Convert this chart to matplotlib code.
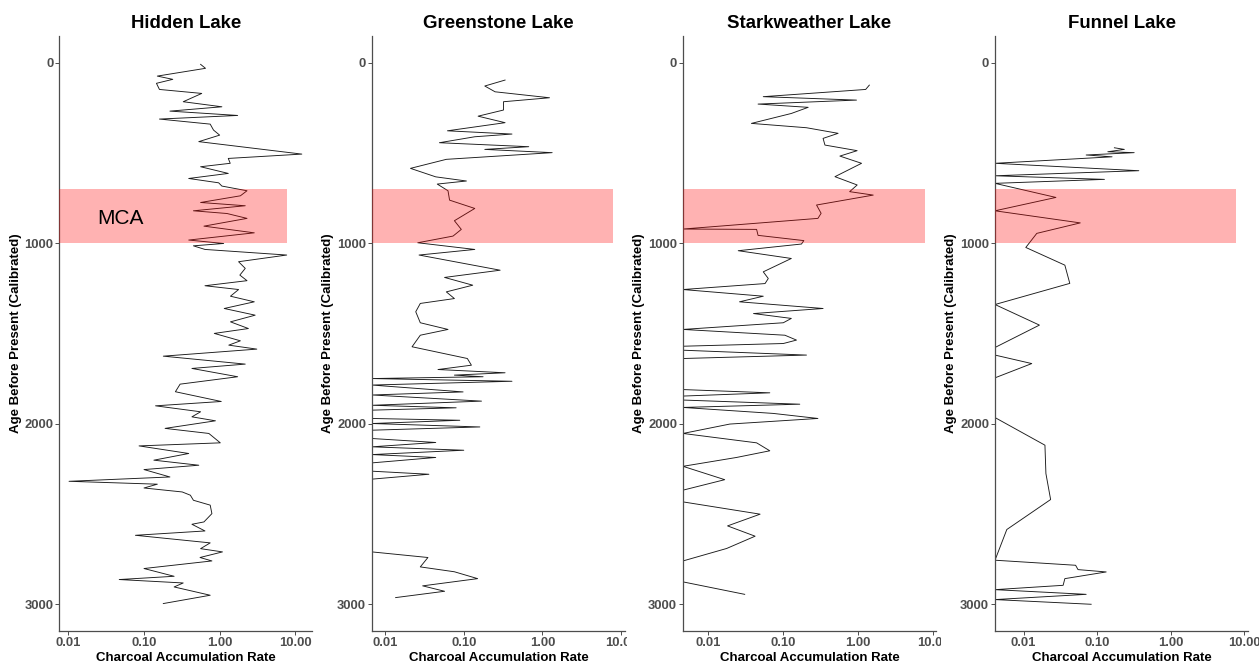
import matplotlib.pyplot as plt
import numpy as np

plt.rcParams['font.family'] = ['Liberation Sans', 'DejaVu Sans']

lakes = ["Hidden Lake", "Greenstone Lake", "Starkweather Lake", "Funnel Lake"]

hidden_age = [9, 31, 74, 92, 114, 148, 170, 216, 244, 268,
              292, 312, 340, 373, 401, 437, 506, 530, 557, 576,
              613, 641, 665, 683, 709, 737, 774, 792, 820, 835,
              862, 905, 942, 982, 1001, 1014, 1034, 1065, 1102, 1139,
              1176, 1207, 1235, 1256, 1293, 1324, 1361, 1398, 1435, 1472,
              1499, 1540, 1564, 1586, 1625, 1669, 1693, 1739, 1780, 1822,
              1876, 1900, 1933, 1961, 1983, 2025, 2053, 2105, 2122, 2164,
              2201, 2229, 2253, 2294, 2318, 2334, 2355, 2377, 2395, 2423,
              2450, 2497, 2543, 2556, 2593, 2617, 2659, 2691, 2709, 2740,
              2759, 2801, 2844, 2862, 2881, 2903, 2949, 2995]
hidden_rate = [0.56, 0.65, 0.15, 0.24, 0.146, 0.16, 0.58, 0.33, 1.07, 0.22,
               1.73, 0.16, 0.75, 0.83, 1.0, 0.53, 12.2, 1.3, 1.38, 0.56,
               1.3, 0.39, 0.97, 1.07, 2.3, 1.88, 0.56, 2.18, 0.45, 1.25,
               2.3, 0.62, 2.87, 0.39, 1.13, 0.45, 0.64, 7.7, 1.78, 2.18,
               1.85, 2.3, 0.64, 1.78, 1.39, 2.87, 1.15, 2.95, 1.39, 2.4,
               0.85, 1.88, 1.32, 3.1, 0.18, 2.18, 0.43, 1.73, 0.30, 0.26,
               1.05, 0.142, 0.56, 0.43, 0.88, 0.19, 0.72, 1.02, 0.086, 0.39,
               0.135, 0.53, 0.10, 0.22, 0.0102, 0.15, 0.10, 0.32, 0.41, 0.45,
               0.75, 0.79, 0.62, 0.43, 0.64, 0.077, 0.75, 0.56, 1.09, 0.55,
               0.79, 0.10, 0.25, 0.047, 0.33, 0.25, 0.75, 0.18]

greenstone_age = [96, 129, 161, 194, 216, 262, 296, 332, 377, 395,
                  410, 443, 465, 480, 498, 535, 585, 632, 655, 672,
                  709, 761, 807, 875, 923, 960, 997, 1034, 1065, 1149,
                  1189, 1232, 1269, 1306, 1333, 1379, 1440, 1477, 1509, 1573,
                  1638, 1675, 1699, 1717, 1730, 1739, 1749, 1764, 1785, 1823,
                  1840, 1874, 1897, 1911, 1924, 1970, 1980, 1998, 2017, 2035,
                  2081, 2103, 2127, 2146, 2170, 2186, 2216, 2262, 2279, 2306,
                  2709, 2740, 2792, 2819, 2857, 2897, 2927, 2962]
greenstone_rate = [0.335, 0.185, 0.25, 1.23, 0.32, 0.32, 0.152, 0.335, 0.062, 0.41,
                   0.138, 0.049, 0.67, 0.185, 1.33, 0.06, 0.021, 0.044, 0.108, 0.046,
                   0.063, 0.066, 0.138, 0.076, 0.093, 0.073, 0.026, 0.138, 0.027, 0.29,
                   0.057, 0.13, 0.06, 0.076, 0.028, 0.0245, 0.028, 0.063, 0.028, 0.022,
                   0.111, 0.125, 0.047, 0.335, 0.076, 0.176, 0, 0.41, 0, 0.098,
                   0, 0.168, 0, 0.080, 0, 0, 0.089, 0, 0.16, 0,
                   0, 0.044, 0, 0.10, 0, 0.044, 0, 0, 0.036, 0,
                   0, 0.035, 0.028, 0.076, 0.15, 0.030, 0.057, 0.0136]

starkweather_age = [124, 148, 188, 207, 229, 247, 281, 336, 360, 391,
                    419, 456, 487, 517, 557, 631, 677, 714, 733, 788,
                    834, 862, 921, 923, 956, 985, 1004, 1041, 1084, 1158,
                    1195, 1223, 1256, 1293, 1324, 1361, 1389, 1416, 1440, 1477,
                    1509, 1536, 1555, 1570, 1592, 1619, 1638, 1810, 1828, 1846,
                    1868, 1891, 1909, 1942, 1970, 2001, 2053, 2105, 2149, 2186,
                    2235, 2309, 2367, 2432, 2500, 2565, 2622, 2690, 2759, 2875,
                    2944]
starkweather_rate = [1.41, 1.26, 0.054, 0.95, 0.046, 0.215, 0.128, 0.0375, 0.204, 0.54,
                     0.34, 0.36, 0.97, 0.57, 1.11, 0.49, 0.97, 0.77, 1.59, 0.278,
                     0.32, 0.29, 0, 0.044, 0.046, 0.188, 0.175, 0.025, 0.128, 0.054,
                     0.063, 0.057, 0, 0.054, 0.026, 0.34, 0.04, 0.128, 0.10, 0,
                     0.105, 0.15, 0.10, 0, 0, 0.204, 0, 0, 0.066, 0,
                     0, 0.166, 0, 0.073, 0.29, 0.0193, 0, 0.044, 0.066, 0.0237,
                     0, 0.0165, 0, 0, 0.049, 0.018, 0.042, 0.0175, 0, 0,
                     0.0305]

funnel_age = [471, 480, 493, 498, 511, 521, 557, 598, 626, 646,
              668, 746, 820, 887, 945, 1023, 1121, 1222, 1339, 1453,
              1577, 1619, 1666, 1745, 1965, 2118, 2275, 2419, 2585, 2755,
              2783, 2807, 2820, 2857, 2894, 2918, 2944, 2973, 2999]
funnel_rate = [0.172, 0.235, 0.14, 0.32, 0.071, 0.16, 0, 0.37, 0, 0.126,
               0, 0.0275, 0, 0.059, 0.0151, 0.0107, 0.0364, 0.0425, 0, 0.0164,
               0, 0, 0.0129, 0, 0, 0.0195, 0.0201, 0.0233, 0.0059, 0,
               0.051, 0.055, 0.133, 0.0364, 0.0345, 0, 0.071, 0, 0.083]

ages = [hidden_age, greenstone_age, starkweather_age, funnel_age]
rates = [hidden_rate, greenstone_rate, starkweather_rate, funnel_rate]

mca_top, mca_bottom = 700, 1000
mca_right = 7.8

x_ticks = [0.01, 0.1, 1, 10]
x_ticklabels = ["0.01", "0.10", "1.00", "10.00"]
y_ticks = [0, 1000, 2000, 3000]

# x ranges per panel, log10
x_lims = [(-2.12, 1.225), (-2.167, 1.05), (-2.34, 1.04), (-2.39, 1.055)]

W, H = 1259, 666
fig = plt.figure(figsize=(W / 100, H / 100), dpi=100)
edges = [0, 314, 627, 941, 1259]
ax_left = [59.3, 372, 683, 995]
ax_w = 253
top, bottom = 36, 631
sfs = fig.subfigures(1, 4, wspace=0, width_ratios=np.diff(edges), facecolor='white')

for i in range(4):
    sw = edges[i + 1] - edges[i]
    ax = sfs[i].add_axes([(ax_left[i] - edges[i]) / sw, (H - bottom) / H,
                          ax_w / sw, (bottom - top) / H])
    lo, hi = 10 ** x_lims[i][0], 10 ** x_lims[i][1]
    r = np.array(rates[i], dtype=float)
    r = np.where(r > 0, r, lo)  # zeros sit on the panel edge
    ax.plot(r, ages[i], color='#1a1a1a', lw=0.65, zorder=2)
    ax.fill_betweenx([mca_top, mca_bottom], lo, mca_right, color='red',
                     alpha=0.3, lw=0, zorder=3)
    if i == 0:
        ax.text(0.049, 860, "MCA", fontsize=15, ha='center', va='center', zorder=4)

    ax.set_xscale('log')
    ax.set_xlim(lo, hi)
    ax.set_ylim(3147, -148)
    ax.minorticks_off()
    ax.set_xticks(x_ticks, x_ticklabels, fontweight='bold')
    ax.set_yticks(y_ticks, [str(v) for v in y_ticks], fontweight='bold')
    ax.tick_params(length=2.8, width=0.7, color='#4D4D4D', labelsize=9.4,
                   labelcolor='#4D4D4D', pad=1.5)
    for s in ['top', 'right']:
        ax.spines[s].set_visible(False)
    for s in ['left', 'bottom']:
        ax.spines[s].set_color('#4D4D4D')
        ax.spines[s].set_linewidth(0.9)

    ax.set_title(lakes[i], fontsize=13.4, fontweight='bold', pad=6)
    ax.set_xlabel("Charcoal Accumulation Rate", fontsize=9.5, fontweight='bold', labelpad=2)
    ax.set_ylabel("Age Before Present (Calibrated)", fontsize=9.5, fontweight='bold', labelpad=2)

fig.savefig("out.png", dpi=100)
